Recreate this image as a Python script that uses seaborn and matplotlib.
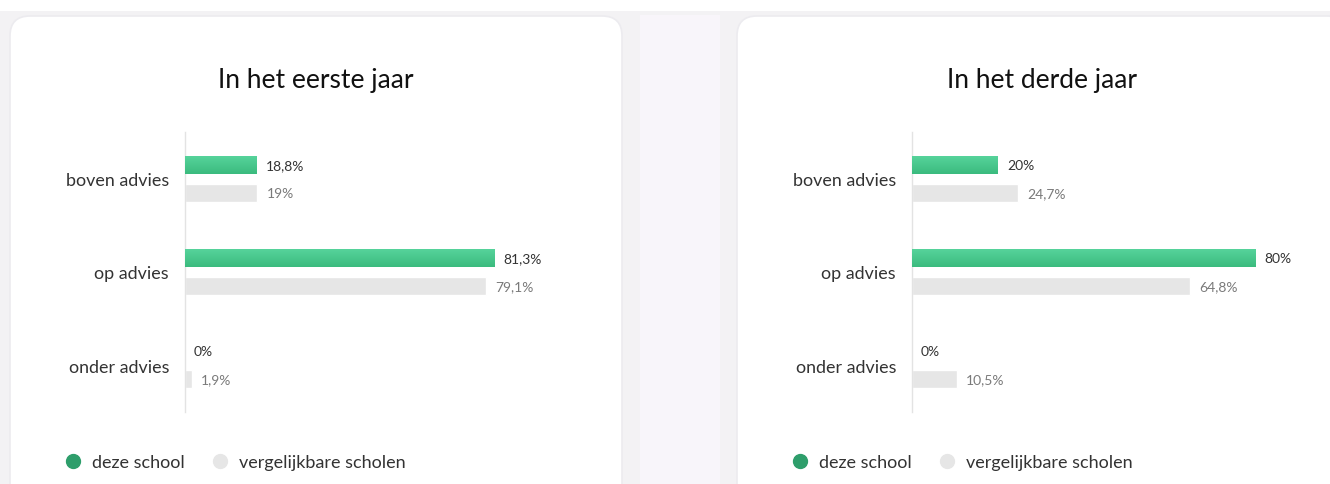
import numpy as np
import pandas as pd
import matplotlib
matplotlib.use("Agg")
import matplotlib.pyplot as plt
import seaborn as sns
from matplotlib.patches import FancyBboxPatch, Rectangle
from matplotlib.lines import Line2D

# data
categories = ["boven advies", "op advies", "onder advies"]
series = ["deze school", "vergelijkbare scholen"]
eerste_school = [18.8, 81.3, 0]
eerste_vergelijk = [19, 79.1, 1.9]
derde_school = [20, 80, 0]
derde_vergelijk = [24.7, 64.8, 10.5]
titels = ["In het eerste jaar", "In het derde jaar"]

GROEN = "#45c68a"
GROEN_LICHT = "#56d39b"
GROEN_DONKER = "#3bbb7e"
GROEN_DOT = "#2e9e6b"
GRIJS = "#e6e6e6"

sns.set_theme(style="white")
plt.rcParams["font.family"] = ["Lato", "DejaVu Sans"]

W, H = 1330, 485
fig = plt.figure(figsize=(W / 100, H / 100), dpi=100)
fig.patch.set_facecolor("white")

# achtergrond met kaarten
bg = fig.add_axes([0, 0, 1, 1], zorder=-1)
bg.set_xlim(0, W)
bg.set_ylim(H, 0)
bg.axis("off")
bg.add_patch(Rectangle((0, 12), W, H, color="#f3f2f4", lw=0))
bg.add_patch(Rectangle((640, 16), 80, H, color="#f8f5fa", lw=0))
for x0, x1 in [(10, 622), (737, 1347)]:
    bg.add_patch(FancyBboxPatch((x0, 17), x1 - x0, 540,
                                boxstyle="round,pad=0,rounding_size=20",
                                fc="white", ec="#ecebef", lw=1.2))


def px(x0, y0, x1, y1):
    return [x0 / W, 1 - y1 / H, (x1 - x0) / W, (y1 - y0) / H]


def fmt(v):
    s = f"{v:.1f}".rstrip("0").rstrip(".")
    return s.replace(".", ",") + "%"


panels = [
    (eerste_school, eerste_vergelijk, px(185, 133, 566, 413), 100, 316, 73),
    (derde_school, derde_vergelijk, px(912, 133, 1320, 413), 95.1, 1042, 800),
]

for (school, vergelijk, rect, xmax, tx, lx), titel in zip(panels, titels):
    df = pd.DataFrame({
        "categorie": categories * 2,
        "reeks": [series[0]] * 3 + [series[1]] * 3,
        "waarde": school + vergelijk,
    })
    ax = fig.add_axes(rect)
    sns.barplot(data=df, y="categorie", x="waarde", hue="reeks", orient="h",
                palette={series[0]: GROEN, series[1]: GRIJS},
                width=0.6, gap=0.36, legend=False, ax=ax, saturation=1)

    # verloop op de groene balken
    grad = np.linspace(0, 1, 50).reshape(-1, 1)
    cmap = matplotlib.colors.LinearSegmentedColormap.from_list("g", [GROEN_LICHT, GROEN_DONKER])
    for p in ax.containers[0]:
        if p.get_width() <= 0:
            continue
        im = ax.imshow(grad, cmap=cmap, aspect="auto", origin="upper",
                       extent=(p.get_x(), p.get_x() + p.get_width(),
                               p.get_y() + p.get_height(), p.get_y()), zorder=3)
        im.set_clip_path(p)
    ax.set_xlim(0, xmax)
    ax.set_ylim(2.5, -0.5)

    ax.bar_label(ax.containers[0], labels=[fmt(v) for v in school], padding=6.5,
                 fontsize=10, color="#333333")
    ax.bar_label(ax.containers[1], labels=[fmt(v) for v in vergelijk], padding=6.5,
                 fontsize=10, color="#7a7a7a")

    ax.set_xlabel("")
    ax.set_ylabel("")
    ax.set_xticks([])
    ax.tick_params(axis="y", length=0, pad=11.5, labelsize=12.9, labelcolor="#333333")
    sns.despine(ax=ax, bottom=True)
    ax.spines["left"].set_color("#e3e3e3")
    ax.spines["left"].set_linewidth(1)
    ax.set_facecolor("none")

    fig.text(tx / W, 1 - 88 / H, titel, ha="center", va="baseline",
             fontsize=19, color="#111111")

    handles = [Line2D([], [], marker="o", ls="", ms=10, mfc=c, mec=c)
               for c in (GROEN_DOT, GRIJS)]
    fig.legend(handles, series, loc="center left", ncol=2, frameon=False,
               bbox_to_anchor=((lx - 26) / W, 1 - 463 / H), fontsize=13,
               handletextpad=0.5, columnspacing=1.4, handlelength=1.1,
               labelcolor="#333333")

fig.savefig("out.png", dpi=100)
